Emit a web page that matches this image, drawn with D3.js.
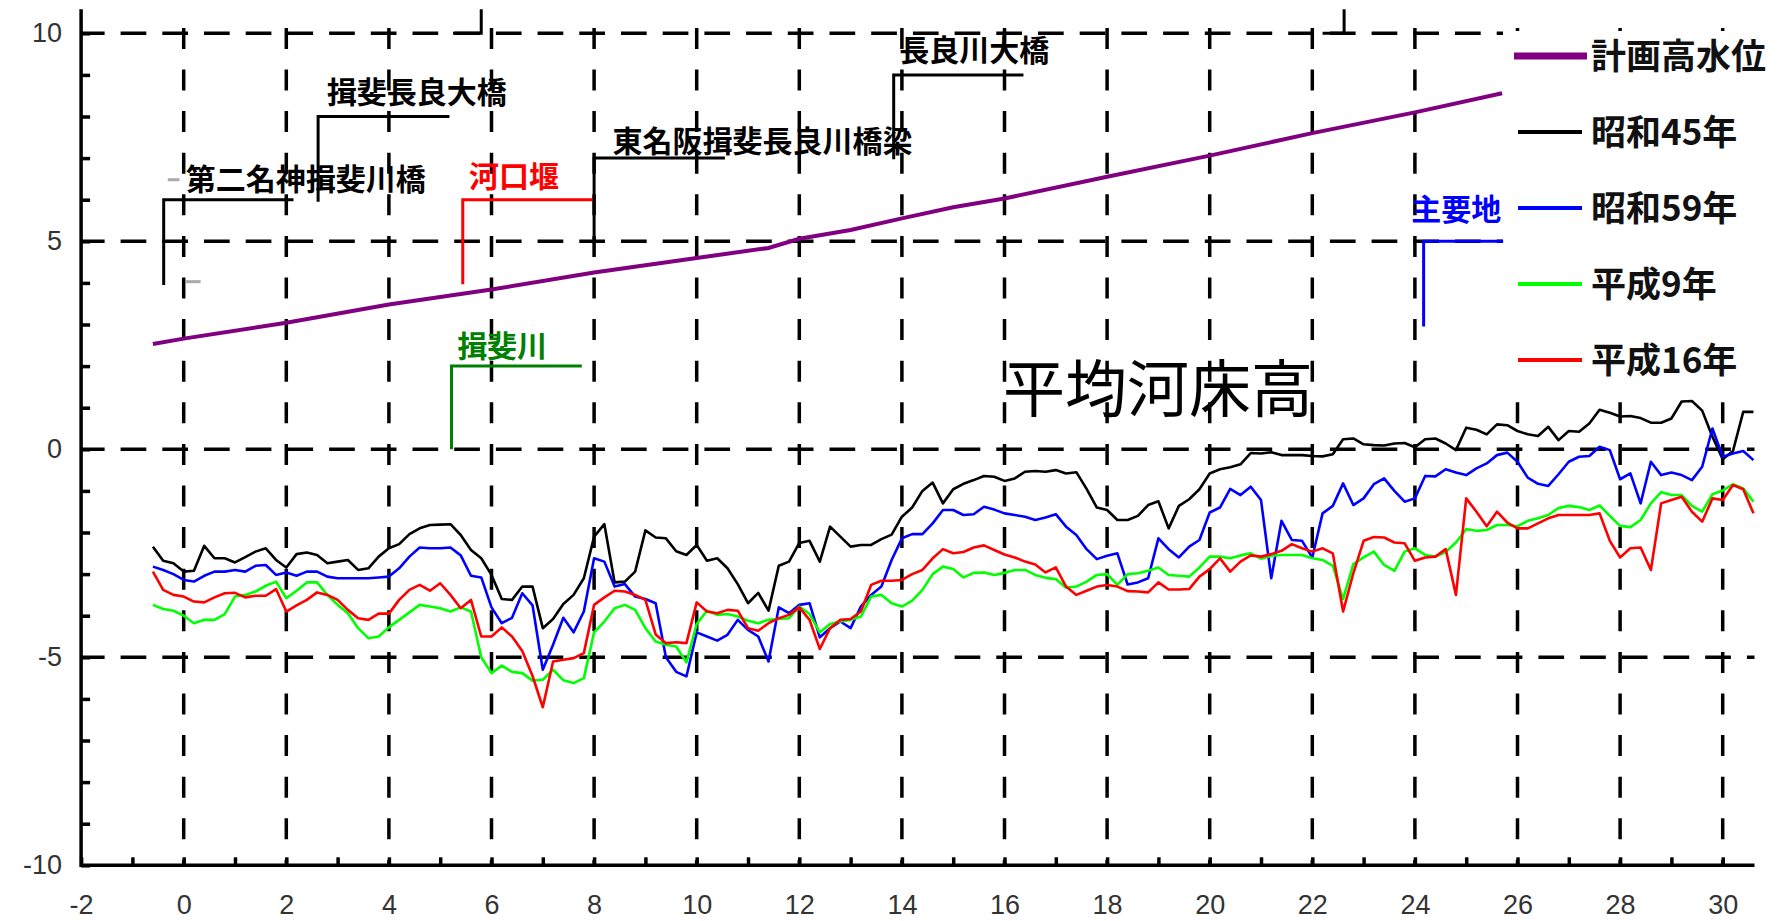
<!DOCTYPE html>
<html lang="ja">
<head>
<meta charset="utf-8">
<title>平均河床高</title>
<script src="https://cdn.jsdelivr.net/npm/d3@7"></script>
<style>
  body { margin: 0; background: #fff; }
  svg { display: block; }
  .tick text { font-family: "Liberation Sans", Arial, sans-serif; font-size: 27px; fill: #333; }
  .tick line { stroke: #000; stroke-width: 3.5; }
  .jp { font-family: "Noto Sans CJK JP", "Noto Sans CJK SC", sans-serif; }
</style>
</head>
<body>
<div id="chart"></div>
<script>
// 距離標 (km)
const kp = [-0.6,-0.4,-0.2,0,0.2,0.4,0.6,0.8,1,1.2,1.4,1.6,1.8,2,2.2,2.4,2.6,2.8,3,3.2,3.4,3.6,3.8,4,4.2,4.4,
  4.6,4.8,5,5.2,5.4,5.6,5.8,6,6.2,6.4,6.6,6.8,7,7.2,7.4,7.6,7.8,8,8.2,8.4,8.6,8.8,9,9.2,9.4,9.6,9.8,
  10,10.2,10.4,10.6,10.8,11,11.2,11.4,11.6,11.8,12,12.2,12.4,12.6,12.8,13,13.2,13.4,13.6,13.8,14,14.2,14.4,14.6,14.8,15,
  15.2,15.4,15.6,15.8,16,16.2,16.4,16.6,16.8,17,17.2,17.4,17.6,17.8,18,18.2,18.4,18.6,18.8,19,19.2,19.4,19.6,19.8,20,20.2,
  20.4,20.6,20.8,21,21.2,21.4,21.6,21.8,22,22.2,22.4,22.6,22.8,23,23.2,23.4,23.6,23.8,24,24.2,24.4,24.6,24.8,25,25.2,25.4,25.6,
  25.8,26,26.2,26.4,26.6,26.8,27,27.2,27.4,27.6,27.8,28,28.2,28.4,28.6,28.8,29,29.2,29.4,29.6,29.8,30,30.2,30.4,30.6];

// 平均河床高 (m)
const s45 = [-2.34,-2.68,-2.74,-2.94,-2.92,-2.32,-2.62,-2.62,-2.72,-2.59,-2.46,-2.38,-2.66,-2.84,-2.52,-2.48,-2.54,-2.74,-2.7,-2.66,-2.9,-2.86,-2.58,-2.38,-2.28,-2.04,
  -1.9,-1.82,-1.81,-1.8,-2.06,-2.42,-2.62,-3.02,-3.6,-3.62,-3.3,-3.3,-4.3,-4.08,-3.72,-3.5,-3.1,-2.1,-1.8,-3.2,-3.18,-2.94,-1.95,-2.12,-2.14,-2.45,-2.54,
  -2.3,-2.68,-2.62,-2.86,-3.24,-3.7,-3.45,-3.88,-2.8,-2.7,-2.25,-2.2,-2.7,-1.86,-2.1,-2.34,-2.3,-2.3,-2.16,-2.05,-1.62,-1.4,-1.0,-0.8,-1.3,-0.96,
  -0.83,-0.74,-0.64,-0.66,-0.76,-0.7,-0.54,-0.52,-0.54,-0.5,-0.58,-0.55,-0.95,-1.4,-1.46,-1.7,-1.7,-1.6,-1.34,-1.25,-1.9,-1.36,-1.2,-0.96,-0.58,-0.48,
  -0.43,-0.36,-0.09,-0.1,-0.07,-0.14,-0.14,-0.14,-0.16,-0.17,-0.12,0.24,0.26,0.12,0.1,0.09,0.14,0.15,0.05,0.24,0.26,0.14,-0.02,0.52,0.47,0.36,0.6,
  0.58,0.44,0.36,0.32,0.54,0.22,0.44,0.42,0.62,0.95,0.88,0.79,0.8,0.75,0.64,0.64,0.74,1.15,1.16,0.93,0.3,-0.24,-0.04,0.9,0.9];

const s59 = [-2.82,-2.9,-3.0,-3.14,-3.18,-3.04,-2.94,-2.94,-2.9,-2.94,-2.8,-2.78,-3.02,-2.96,-3.04,-2.94,-2.94,-3.06,-3.1,-3.1,-3.1,-3.1,-3.08,-3.06,-2.86,-2.58,
  -2.36,-2.38,-2.38,-2.36,-2.55,-3.04,-3.08,-3.8,-4.18,-4.05,-3.46,-3.75,-5.3,-4.7,-4.05,-4.4,-3.9,-2.62,-2.7,-3.3,-3.24,-3.54,-3.6,-3.7,-5.0,-5.35,-5.46,
  -4.4,-4.5,-4.6,-4.46,-4.1,-4.34,-4.5,-5.1,-3.8,-3.94,-3.74,-3.7,-4.52,-4.3,-4.14,-4.3,-3.78,-3.5,-3.3,-2.66,-2.14,-2.04,-2.04,-1.78,-1.46,-1.46,
  -1.58,-1.56,-1.38,-1.45,-1.54,-1.58,-1.62,-1.7,-1.64,-1.56,-1.86,-2.06,-2.4,-2.64,-2.56,-2.5,-3.25,-3.2,-3.1,-2.14,-2.4,-2.6,-2.34,-2.18,-1.52,-1.4,
  -0.95,-1.1,-0.9,-1.22,-3.1,-1.72,-2.18,-2.2,-2.6,-1.54,-1.36,-0.82,-1.34,-1.18,-0.84,-0.7,-1.0,-1.26,-1.18,-0.64,-0.65,-0.48,-0.56,-0.62,-0.46,-0.34,-0.14,
  -0.08,-0.3,-0.68,-0.83,-0.88,-0.6,-0.3,-0.18,-0.16,0.06,-0.02,-0.72,-0.58,-1.3,-0.3,-0.62,-0.56,-0.62,-0.74,-0.42,0.5,-0.18,-0.1,-0.04,-0.26];

const h9 = [-3.74,-3.84,-3.88,-4.0,-4.18,-4.1,-4.1,-3.96,-3.54,-3.5,-3.42,-3.28,-3.18,-3.58,-3.4,-3.2,-3.2,-3.5,-3.74,-3.94,-4.3,-4.54,-4.5,-4.28,-4.1,-3.92,
  -3.74,-3.78,-3.82,-3.9,-3.8,-3.9,-5.0,-5.38,-5.2,-5.35,-5.38,-5.56,-5.54,-5.3,-5.55,-5.62,-5.5,-4.4,-4.14,-3.82,-3.74,-3.86,-4.3,-4.62,-4.7,-4.74,-5.12,
  -4.2,-3.88,-3.98,-3.96,-4.02,-4.12,-4.18,-4.1,-4.08,-4.06,-3.78,-3.96,-4.4,-4.2,-4.14,-4.1,-4.02,-3.54,-3.5,-3.7,-3.78,-3.64,-3.38,-3.0,-2.82,-2.88,
  -3.08,-2.97,-2.96,-3.02,-2.97,-2.9,-2.9,-3.02,-3.09,-3.12,-3.33,-3.3,-3.18,-3.02,-3.0,-3.26,-3.0,-2.98,-2.92,-2.84,-3.02,-3.04,-3.06,-2.84,-2.58,-2.58,
  -2.62,-2.55,-2.5,-2.63,-2.56,-2.54,-2.54,-2.54,-2.62,-2.66,-2.8,-3.6,-2.76,-2.6,-2.46,-2.78,-2.92,-2.46,-2.38,-2.54,-2.58,-2.47,-2.24,-1.92,-1.96,-1.94,-1.82,
  -1.82,-1.85,-1.72,-1.66,-1.58,-1.41,-1.36,-1.39,-1.46,-1.35,-1.6,-1.84,-1.87,-1.7,-1.3,-1.03,-1.1,-1.1,-1.36,-1.5,-1.08,-0.99,-0.84,-0.94,-1.26];

const h16 = [-2.94,-3.38,-3.5,-3.54,-3.66,-3.68,-3.56,-3.46,-3.45,-3.56,-3.52,-3.52,-3.36,-3.9,-3.75,-3.62,-3.44,-3.5,-3.62,-3.86,-4.06,-4.1,-3.95,-3.95,-3.62,-3.38,
  -3.26,-3.4,-3.22,-3.5,-3.82,-3.62,-4.5,-4.5,-4.28,-4.5,-4.85,-5.45,-6.2,-5.1,-5.06,-5.02,-4.9,-3.74,-3.56,-3.4,-3.42,-3.5,-3.62,-4.45,-4.66,-4.64,-4.66,
  -3.68,-3.9,-3.94,-3.86,-3.88,-4.3,-4.36,-4.18,-4.06,-3.98,-3.8,-4.1,-4.8,-4.3,-4.1,-4.08,-3.9,-3.26,-3.16,-3.16,-3.14,-3.0,-2.9,-2.62,-2.4,-2.5,
  -2.47,-2.36,-2.31,-2.42,-2.53,-2.6,-2.7,-2.77,-2.96,-2.84,-3.3,-3.5,-3.4,-3.3,-3.26,-3.3,-3.41,-3.42,-3.44,-3.2,-3.37,-3.37,-3.36,-3.06,-2.88,-2.62,
  -2.94,-2.7,-2.55,-2.58,-2.52,-2.44,-2.28,-2.38,-2.46,-2.38,-2.5,-3.9,-2.98,-2.2,-2.11,-2.12,-2.24,-2.26,-2.68,-2.6,-2.58,-2.4,-3.5,-1.18,-1.5,-1.85,-1.5,
  -1.76,-1.9,-1.9,-1.78,-1.66,-1.58,-1.58,-1.58,-1.58,-1.54,-2.2,-2.6,-2.38,-2.36,-2.9,-1.3,-1.22,-1.14,-1.5,-1.74,-1.18,-1.22,-0.86,-0.96,-1.54];

// 計画高水位
const hwlKp = [-0.6, 0, 2, 4, 6, 8, 10, 11.4, 12, 13, 14, 15, 16, 18, 20, 22, 24, 25.7];
const hwlLevel = [2.53, 2.66, 3.04, 3.48, 3.84, 4.25, 4.6, 4.84, 5.06, 5.27, 5.55, 5.82, 6.03, 6.55, 7.06, 7.6, 8.1, 8.56];

const legendNames = ["計画高水位", "昭和45年", "昭和59年", "平成9年", "平成16年"];
const legendColors = ["#800080", "#000000", "#0000ff", "#00ff00", "#ff0000"];

const xTickLabels = [-2, 0, 2, 4, 6, 8, 10, 12, 14, 16, 18, 20, 22, 24, 26, 28, 30];
const yTickLabels = [-10, -5, 0, 5, 10];

// 構造物の位置 (km, m)
const siteNames = ["第二名神揖斐川橋", "揖斐長良大橋", "河口堰", "揖斐川", "東名阪揖斐長良川橋梁", "長良川大橋", "主要地"];
const siteKp = [-0.39, 2.62, 5.44, 5.22, 8.0, 13.84, 24.17];
const siteFrom = [3.95, 5.95, 3.97, 0, 4.95, 6.97, 2.95];
const siteTo = [6, 8, 6, 2, 7, 9, 5];
const siteEnd = [2.14, 5.18, 8.0, 7.76, 10.55, 16.37, 25.72];
const siteLabelKp = [0.04, 2.79, 5.56, 5.33, 8.36, 13.95, 23.93];
const siteLabelLevel = [6.5, 8.59, 6.57, 2.48, 7.41, 9.6, 5.78];
const siteColors = ["#000", "#000", "#ff0000", "#008000", "#000", "#000", "#0000ff"];

const W = 1787, H = 921;

const x = d3.scaleLinear().domain([-2, 30]).range([81.1, 1722.7]);
const y = d3.scaleLinear().domain([-10, 10]).range([865.3, 33.3]);
const xEnd = 30.62, yTop = 10.58;

const svg = d3.select("#chart").append("svg")
  .attr("width", W)
  .attr("height", H);

// グリッド線
const grid = svg.append("g").attr("stroke", "#000").attr("stroke-width", 3.5).attr("fill", "none");
grid.selectAll(".hg")
  .data(yTickLabels.filter(d => d > -10))
  .enter().append("line")
  .attr("x1", x(-2)).attr("x2", x(xEnd))
  .attr("y1", d => y(d)).attr("y2", d => y(d))
  .attr("stroke-dasharray", "25.7 16")
  .attr("stroke-dashoffset", 2.2);
grid.selectAll(".vg")
  .data(xTickLabels.filter(d => d > -2))
  .enter().append("line")
  .attr("x1", d => x(d)).attr("x2", d => x(d))
  .attr("y1", y(10.13)).attr("y2", y(-10))
  .attr("stroke-dasharray", "21 20.6");

// 凡例の背景
svg.append("rect")
  .attr("x", 1503).attr("y", 31)
  .attr("width", W - 1503).attr("height", 369)
  .attr("fill", "#fff");

// 軸
svg.append("g")
  .attr("transform", `translate(${x(-2)},0)`)
  .call(d3.axisLeft(y).tickValues(d3.range(-10, 11)).tickSize(-9).tickPadding(19)
    .tickFormat(d => yTickLabels.includes(d) ? d : ""))
  .call(g => g.select(".domain").remove());

svg.append("g")
  .attr("transform", `translate(0,${y(-10)})`)
  .call(d3.axisBottom(x).tickValues(d3.range(-2, 31)).tickSize(-8).tickPadding(30)
    .tickFormat(d => xTickLabels.includes(d) ? d : ""))
  .call(g => g.select(".domain").remove());

svg.append("line")
  .attr("x1", x(-2)).attr("x2", x(-2))
  .attr("y1", y(yTop)).attr("y2", y(-10) + 1.75)
  .attr("stroke", "#000").attr("stroke-width", 3.5);
svg.append("line")
  .attr("x1", x(-2)).attr("x2", x(xEnd))
  .attr("y1", y(-10)).attr("y2", y(-10))
  .attr("stroke", "#000").attr("stroke-width", 3.5);

// 計画高水位
svg.append("path")
  .datum(hwlLevel)
  .attr("fill", "none")
  .attr("stroke", legendColors[0])
  .attr("stroke-width", 4)
  .attr("d", d3.line().x((d, i) => x(hwlKp[i])).y(d => y(d)));

// 河床高
const series = [s45, s59, h9, h16];
const line = d3.line().x((d, i) => x(kp[i])).y(d => y(d));
svg.selectAll(".bed")
  .data(series)
  .enter().append("path")
  .attr("class", "bed")
  .attr("fill", "none")
  .attr("stroke", (d, i) => legendColors[i + 1])
  .attr("stroke-width", 2.6)
  .attr("stroke-linejoin", "round")
  .attr("d", line);

// 構造物の引き出し線
const sites = svg.append("g").attr("fill", "none").attr("stroke-width", 3);
siteNames.forEach((name, i) => {
  sites.append("path")
    .attr("stroke", siteColors[i])
    .attr("d", `M${x(siteKp[i])},${y(siteFrom[i])}V${y(siteTo[i])}H${x(siteEnd[i])}`);
  svg.append("text")
    .attr("class", "jp")
    .attr("x", x(siteLabelKp[i]))
    .attr("y", y(siteLabelLevel[i]) + 11)
    .attr("font-size", 30)
    .attr("font-weight", "bold")
    .attr("fill", siteColors[i])
    .text(name);
});

// 上端で切れた引き出し線
[[5.25, 5.8], [22.2, 22.62]].forEach(([a, b]) => {
  sites.append("path")
    .attr("stroke", "#000")
    .attr("d", `M${x(a)},${y(10)}H${x(b)}V${y(yTop)}`);
});

// 小さな灰色の線
[[-0.31, -0.08, 6.48], [0.04, 0.33, 4.03]].forEach(([a, b, v]) => {
  svg.append("line")
    .attr("x1", x(a)).attr("x2", x(b))
    .attr("y1", y(v)).attr("y2", y(v))
    .attr("stroke", "#aaa").attr("stroke-width", 3);
});

// タイトル
svg.append("text")
  .attr("class", "jp")
  .attr("x", 1003)
  .attr("y", 412)
  .attr("font-size", 62)
  .attr("fill", "#000")
  .text("平均河床高");

// 凡例
const legend = svg.append("g").attr("transform", "translate(1514,56)");
legendNames.forEach((name, i) => {
  const g = legend.append("g").attr("transform", `translate(0,${i * 76})`);
  g.append("line")
    .attr("x1", i === 0 ? 0 : 4).attr("x2", i === 0 ? 73 : 68)
    .attr("stroke", legendColors[i])
    .attr("stroke-width", i === 0 ? 7 : 4);
  g.append("text")
    .attr("class", "jp")
    .attr("x", 77)
    .attr("y", 13)
    .attr("font-size", 35)
    .attr("font-weight", "bold")
    .attr("fill", "#111")
    .text(name);
});
</script>
</body>
</html>
